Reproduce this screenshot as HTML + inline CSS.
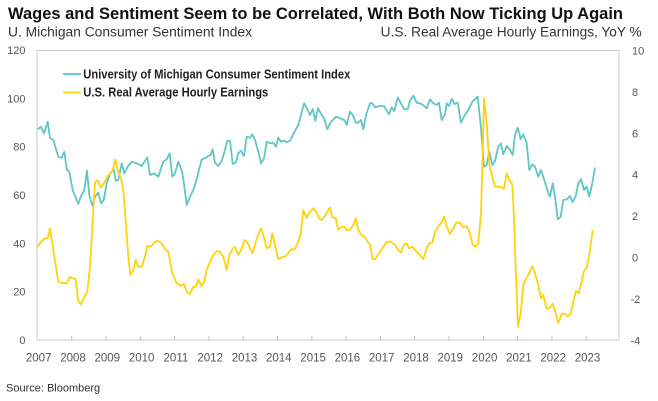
<!DOCTYPE html>
<html><head><meta charset="utf-8"><style>
html,body{margin:0;padding:0;background:#fff;}
svg{display:block;}
text{font-family:"Liberation Sans",Arial,sans-serif;}
</style></head><body>
<svg width="658" height="401" viewBox="0 0 658 401" xmlns="http://www.w3.org/2000/svg">
<rect width="658" height="401" fill="#fff"/>
<text x="8" y="19" font-size="17" font-weight="bold" fill="#111" textLength="615" lengthAdjust="spacingAndGlyphs">Wages and Sentiment Seem to be Correlated, With Both Now Ticking Up Again</text>
<text x="8" y="36.5" font-size="13.5" fill="#333" textLength="244" lengthAdjust="spacingAndGlyphs">U. Michigan Consumer Sentiment Index</text>
<text x="641.7" y="36.5" font-size="13.5" fill="#333" text-anchor="end" textLength="261" lengthAdjust="spacingAndGlyphs">U.S. Real Average Hourly Earnings, YoY %</text>

<rect x="37" y="50.5" width="582" height="289.5" fill="none" stroke="#c9c9c9" stroke-width="1"/>
<g stroke="#c0c0c0" stroke-width="1">
<line x1="71.7" y1="340" x2="71.7" y2="336"/><line x1="106" y1="340" x2="106" y2="336"/><line x1="140.3" y1="340" x2="140.3" y2="336"/><line x1="174.6" y1="340" x2="174.6" y2="336"/><line x1="208.9" y1="340" x2="208.9" y2="336"/><line x1="243.2" y1="340" x2="243.2" y2="336"/><line x1="277.5" y1="340" x2="277.5" y2="336"/><line x1="311.8" y1="340" x2="311.8" y2="336"/><line x1="346.1" y1="340" x2="346.1" y2="336"/><line x1="380.4" y1="340" x2="380.4" y2="336"/><line x1="414.7" y1="340" x2="414.7" y2="336"/><line x1="449" y1="340" x2="449" y2="336"/><line x1="483.3" y1="340" x2="483.3" y2="336"/><line x1="517.6" y1="340" x2="517.6" y2="336"/><line x1="551.9" y1="340" x2="551.9" y2="336"/><line x1="586.2" y1="340" x2="586.2" y2="336"/>
</g>

<g font-size="11" fill="#555" text-anchor="end">
<text x="25.5" y="54">120</text><text x="25.5" y="102.3">100</text><text x="25.5" y="150.7">80</text><text x="25.5" y="199">60</text><text x="25.5" y="247.3">40</text><text x="25.5" y="295.7">20</text><text x="25.5" y="344">0</text>
</g>
<g font-size="11" fill="#555">
<text x="632" y="54.5">10</text><text x="632" y="95.9">8</text><text x="632" y="137.3">6</text><text x="632" y="178.7">4</text><text x="632" y="220.1">2</text><text x="632" y="261.5">0</text><text x="630.5" y="302.9">-2</text><text x="630.5" y="344.3">-4</text>
</g>
<g font-size="11.5" fill="#555" text-anchor="middle">
<text x="38.7" y="361.5">2007</text><text x="73" y="361.5">2008</text><text x="107.3" y="361.5">2009</text><text x="141.6" y="361.5">2010</text><text x="175.9" y="361.5">2011</text><text x="210.2" y="361.5">2012</text><text x="244.5" y="361.5">2013</text><text x="278.8" y="361.5">2014</text><text x="313.1" y="361.5">2015</text><text x="347.4" y="361.5">2016</text><text x="381.7" y="361.5">2017</text><text x="416" y="361.5">2018</text><text x="450.3" y="361.5">2019</text><text x="484.6" y="361.5">2020</text><text x="518.9" y="361.5">2021</text><text x="553.2" y="361.5">2022</text><text x="587.5" y="361.5">2023</text>
</g>

<polyline fill="none" stroke="#5fc6c4" stroke-width="1.8" stroke-linejoin="round" points="37.7,129.3 41,126.7 44,133.3 47.7,121.7 50,138.3 53.3,140 58.3,156.7 61.7,157.7 64.3,151.7 66.7,169.3 69.3,171.7 72.7,190 78.3,204 81,196 84.3,190 87,170.7 89.3,195 92.3,205.7 95,196.7 98.3,192.7 101,203.3 103.7,200 106.7,183.3 110,173.3 113.7,169.3 115.7,180.7 118.3,180 121.7,163.3 124.3,173.3 127.7,166.7 131.7,161.7 136.7,163.3 141.7,166 147.3,157.3 150,175 154.3,173.3 158.3,176.7 163.3,161.7 166.7,159.3 169.7,153.3 172.3,176.7 175,173.3 178.3,161.7 181.7,170 183.5,180 186.7,205 190,196.7 194,188.3 197.3,176.7 201.7,159.3 205,158.3 208.3,156 210.7,155 212.7,149.3 215,162.7 218.3,166 221.7,161 225,150 227.3,140.7 230,140.7 232.7,164 235.7,162.7 238.3,153.3 241,150.7 244,156 246.7,136.7 250,137.7 252.3,134.3 255,140 258.3,151.7 261,163.3 264,158.3 266.7,141.7 270,143.3 273.3,142.7 276,146.7 278.3,137.7 281,141.7 284,140.7 286.7,142.3 290,140.7 294,132.7 298.3,125 300.7,116 304,103.3 307.3,109.3 310,115 312.7,109 315.3,120.7 318,108.3 320.7,113.3 324,118.3 327.3,129.3 331,121.7 336,116.7 340,118.3 344.3,120 346.7,125 350,111.7 352.7,115 356,122.7 358.3,122.7 361,120 363.3,129.3 366,115 370,103.3 372.3,103.3 375,107.3 380,106 384,106 389,114.3 391.7,107.3 394.3,111 397.7,97.3 401,103.3 404.3,109.3 407.7,109.3 410,100.7 413.3,95.7 416.7,102.7 421.7,104 426.7,108.3 430,99.3 433.3,103.3 436.7,105 439,102.7 441.7,120 445,114.3 446.7,103.3 449,106 451.7,98.7 454.3,104 457.7,102.7 461,122.7 464.3,116 468.3,110 472.3,101.7 477.7,96.7 481,128.3 484,166.7 486.7,165 489.3,151.7 492.3,165 495,161 498.3,146.7 501,143.3 503.3,154.3 506.7,146 510,150 512.7,155 515,135 517.7,127.7 520.7,139 523.3,134.3 526.7,143.3 529.3,170 532.3,164.3 535,166.7 538.3,176.7 541,170 544.3,180 547.3,190 550,196.7 552.7,183.3 555,196.7 557.7,219.3 560.7,216.7 563.3,200 566.7,199.3 570,196 572.7,202.3 575.7,196 578.3,183.3 581,179 584,190 586.7,186.7 589.3,196.7 592.3,183.3 595,167.7"/>

<polyline fill="none" stroke="#ffd20a" stroke-width="1.8" stroke-linejoin="round" points="37.7,246.7 41,241.7 44.3,238.7 47.7,238.3 50,228.3 53.3,250 58.3,281.7 63.3,283.3 66.7,283.3 70,276.7 72.3,278.3 75.7,279 78.3,301.7 81,304.3 84.3,296.7 87.3,291.7 90,266.7 92.7,220 95,181.7 97.7,180.7 101,187.3 105,181.7 107.7,176 110.3,173.3 112.7,170 115.3,159.3 117.7,170 121,178.3 123.3,190 125.7,220 128.3,256.7 130.3,275 133.3,270 135.7,260 138.3,266.7 141.7,266.7 145,256.7 147.3,246 150.7,246.7 154.3,242.7 157.7,240.7 161.7,243.3 165,249.3 168.3,251.7 172.3,273.3 176.7,283.3 181,285.7 184,284 186.7,291.7 190,294 193.3,286.7 196,286.7 198.3,279.3 201.7,286 204,281.7 206.7,270 210,261.7 213.3,255 216.7,251 220,251.7 223.3,256.7 226.7,270 229.3,255 232.3,249.3 235,246.7 238.3,255 241.7,248.3 244.3,240 246.7,241.7 250,248.3 252.7,253.3 255.7,241.7 258.3,235 260.7,228.3 263.3,235 266.7,248.3 270,246.7 272.3,233.3 275,245 278.3,259.3 281.7,257.3 285,256.7 288.3,253.3 291,249.3 295,249.3 298.3,241.7 300.7,233.3 303.3,210 306.7,217.7 310,211.7 313.3,208.3 316,211.7 319.3,218.3 321.7,220 325,216 330,207.5 332.3,217.3 335.7,218.3 338.3,230 341.7,226.7 344.3,226.7 346.7,230 350,230 353.3,225 356,218.3 358.3,230 361.7,235 365,237.3 367.7,241.7 370,245 372.7,259 375,259.3 377.7,255 381.7,249.3 386.7,241.7 391,241.7 395,245 398.3,250 401,252.7 403.7,245 406.7,243.3 409,248.3 412.3,246.7 415.7,250.7 419,254 423.3,259 426.7,248.3 429.3,243.3 432.3,242.7 435,231.7 438.3,226.7 441.7,221.7 444.3,216.7 446.7,226.7 450,234 453.3,228.3 456,222.7 460,222.7 463.3,227.3 466.7,226 470,233.3 472.7,245 475.7,246.7 478.3,243.3 481,213.3 482.7,151.7 484,98.3 486.7,123.3 489.3,165 492.3,176.7 495,186.7 498.3,186.7 501.7,187.3 504,189 506.7,173.3 509.3,180 512.3,184.3 514,218.3 515.7,268.3 518,326.7 520.7,313.3 523.3,285 526.7,277.7 530,271.7 532.3,266 535,273.3 538.3,285 541,298.3 543.3,295 546.7,309 550,307.7 552.7,303.7 555.7,313.3 558.3,323.3 561.7,313.7 565,313.7 567.7,316.7 570.7,313.3 573.3,301.7 576,291 578.7,293.3 581.7,281.7 584,271 586.7,267.7 589.3,255 592.7,230"/>

<line x1="63" y1="74" x2="81" y2="74" stroke="#5fc6c4" stroke-width="1.8"/>
<line x1="63" y1="92.5" x2="81" y2="92.5" stroke="#ffd20a" stroke-width="1.8"/>
<text x="83.3" y="78.5" font-size="12.5" font-weight="bold" fill="#222" textLength="267" lengthAdjust="spacingAndGlyphs">University of Michigan Consumer Sentiment Index</text>
<text x="83.3" y="96.5" font-size="12.5" font-weight="bold" fill="#222" textLength="185" lengthAdjust="spacingAndGlyphs">U.S. Real Average Hourly Earnings</text>

<text x="6" y="391.5" font-size="11" fill="#333">Source: Bloomberg</text>
</svg>
</body></html>
